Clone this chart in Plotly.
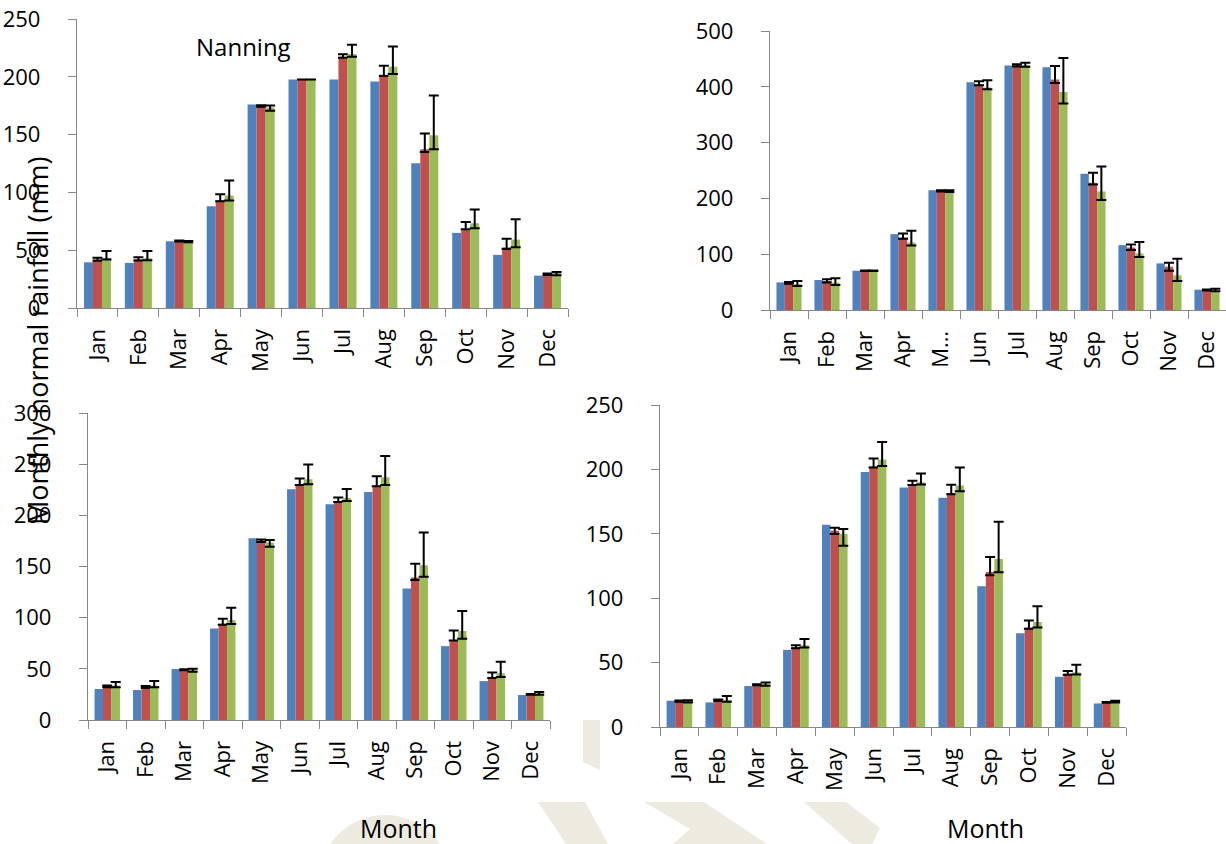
import plotly.graph_objects as go

W, H = 1226, 844

months = ["Jan", "Feb", "Mar", "Apr", "May", "Jun", "Jul", "Aug", "Sep", "Oct", "Nov", "Dec"]
months_short = ["Jan", "Feb", "Mar", "Apr", "M…", "Jun", "Jul", "Aug", "Sep", "Oct", "Nov", "Dec"]

# ---- Nanning (top left) ----
p1_blue = [39.5, 39, 57.7, 88, 176, 197.7, 197.7, 196, 125.3, 65, 46, 28]
p1_red = [42, 42, 58, 93, 174.7, 197.7, 217.4, 201.8, 137.4, 68.4, 52.5, 29.2]
p1_red_up = [1.5, 2, 0.4, 5.4, 0.6, None, 2, 7.8, 13.6, 6.1, 7.3, 0.6]
p1_red_dn = [1.2, 1, 0.4, 0.6, 0.6, None, 1, 1.2, 2.4, 0.3, 1.5, 0.6]
p1_green = [43.3, 43, 57.4, 97.3, 173.5, 197.7, 219.7, 208.7, 149.5, 73.3, 59.2, 30.3]
p1_green_up = [6.1, 6.4, 0.6, 13, 1.7, None, 8.1, 17.6, 34.4, 11.9, 17.6, 0.9]
p1_green_dn = [1.4, 1.7, 0.6, 4.3, 2.9, None, 2.3, 6.3, 12.1, 4.3, 6.7, 2]

# ---- top right ----
p2_blue = [49.5, 53.7, 70.4, 136, 214.8, 408, 438, 435, 244, 116.3, 83.5, 36.4]
p2_red = [48.3, 52, 70.4, 129.5, 213.6, 404.5, 438.5, 413, 228, 112, 77.6, 35.8]
p2_red_up = [1.7, 3, 0.5, 7.5, 1.2, 5.5, 2, 24.4, 17.8, 5.5, 7.1, 1]
p2_red_dn = [1.3, 2.5, 0.5, 1.8, 1.2, 1.8, 2, 6, 3, 4.6, 7.2, 1]
p2_green = [46.5, 49, 70.4, 121, 213, 398.6, 438.5, 390.8, 212.4, 101.4, 62, 35.2]
p2_green_up = [5.5, 7.7, 0.5, 21, 1.5, 13.1, 4.5, 60.9, 44.6, 20.3, 29.9, 2.8]
p2_green_dn = [3.5, 4.3, 0.5, 5.3, 1.5, 3, 2.5, 20.8, 15.4, 6.4, 10, 1.8]

# ---- bottom left ----
p3_blue = [30.3, 29.3, 49.8, 89.5, 177.7, 225.5, 210.9, 222.9, 128.5, 72.2, 38, 24.4]
p3_red = [32.9, 31.6, 49.1, 94, 175.4, 230.4, 213.8, 228.8, 139.3, 78.1, 41.3, 25]
p3_red_up = [0.8, 1.6, 0.4, 4.9, 1, 5.6, 3.6, 9.4, 13.3, 9.4, 5.2, 0.4]
p3_red_dn = [0.8, 0.4, 0.4, 1, 1.4, 0.7, 0.7, 0.4, 2.6, 0.3, 0.3, 0.4]
p3_green = [33.5, 33.5, 48.8, 97.6, 173.1, 235.3, 217, 237.2, 151.3, 86.9, 45.6, 26]
p3_green_up = [3.6, 4.5, 1.3, 12.1, 2.9, 14.3, 8.8, 20.8, 31.9, 19.5, 11.3, 1.3]
p3_green_dn = [1.6, 1.6, 1.6, 3.9, 3.9, 4.9, 2.9, 7.5, 11.4, 7.5, 3.6, 1.3]

# ---- bottom right ----
p4_blue = [20.4, 19.1, 31.8, 59.9, 157, 198, 186, 178, 109.2, 72.8, 39, 18.3]
p4_red = [20.1, 20.7, 32.8, 62, 152.4, 202.2, 188.3, 181.6, 120.4, 77, 41.3, 19.1]
p4_red_up = [0.5, 0.6, 0.4, 1.5, 2.3, 6.2, 2.8, 6.4, 11.6, 5.6, 2.1, 0.3]
p4_red_dn = [0.5, 0.6, 0.4, 0.8, 2.6, 0.8, 0.5, 0.8, 2.6, 0.8, 0.8, 0.3]
p4_green = [19.9, 20.9, 33.3, 63.5, 150, 207.6, 190, 187.5, 130.4, 81.6, 42.4, 19.9]
p4_green_up = [0.8, 3.1, 1.3, 4.9, 3.7, 13.7, 6.8, 13.9, 28.9, 12.2, 5.9, 0.5]
p4_green_dn = [0.8, 1.3, 1.3, 1.8, 9.2, 4.9, 1.7, 4.4, 10.3, 4.4, 1.6, 0.8]

BLUE, RED, GREEN = "#4F81BD", "#C0504D", "#9BBB59"
AXIS_GRAY = "#868686"
FONT = "Open Sans"


def px(x):
    return x / W


def py(y):
    return 1 - y / H


panels = [
    # (blue, red, red+, red-, green, green+, green-, x-range px, y-range px, ymax, dtick, labels)
    (p1_blue, p1_red, p1_red_up, p1_red_dn, p1_green, p1_green_up, p1_green_dn,
     (77, 568), (19, 308), 250, 50, months),
    (p2_blue, p2_red, p2_red_up, p2_red_dn, p2_green, p2_green_up, p2_green_dn,
     (770, 1226), (31, 310), 500, 100, months_short),
    (p3_blue, p3_red, p3_red_up, p3_red_dn, p3_green, p3_green_up, p3_green_dn,
     (88, 550), (413, 720), 300, 50, months),
    (p4_blue, p4_red, p4_red_up, p4_red_dn, p4_green, p4_green_up, p4_green_dn,
     (660, 1126), (405, 727), 250, 50, months),
]

fig = go.Figure()
layout_axes = {}

for i, (b, r, ru, rd, g, gu, gd, xr, yr, ymax, dt, labels) in enumerate(panels, start=1):
    xa = "x" if i == 1 else f"x{i}"
    ya = "y" if i == 1 else f"y{i}"
    err_style = dict(type="data", symmetric=False, color="black", thickness=2, width=5)
    fig.add_trace(go.Bar(x=months, y=b, marker_color=BLUE, marker_line_width=0,
                         xaxis=xa, yaxis=ya, showlegend=False))
    fig.add_trace(go.Bar(x=months, y=r, marker_color=RED, marker_line_width=0,
                         error_y=dict(array=ru, arrayminus=rd, **err_style),
                         xaxis=xa, yaxis=ya, showlegend=False))
    fig.add_trace(go.Bar(x=months, y=g, marker_color=GREEN, marker_line_width=0,
                         error_y=dict(array=gu, arrayminus=gd, **err_style),
                         xaxis=xa, yaxis=ya, showlegend=False))

    xkey = "xaxis" if i == 1 else f"xaxis{i}"
    ykey = "yaxis" if i == 1 else f"yaxis{i}"
    layout_axes[xkey] = dict(
        domain=[px(xr[0]), px(xr[1])], anchor=ya, type="category",
        categoryorder="array", categoryarray=months,
        tickmode="array", tickvals=months, ticktext=labels,
        tickangle=-90, tickson="boundaries", ticks="outside", ticklen=8,
        tickcolor=AXIS_GRAY, tickwidth=1.3, showline=True, linecolor=AXIS_GRAY,
        linewidth=1.3, showgrid=False, zeroline=False, automargin=False,
        ticklabelstandoff=11, tickfont=dict(family=FONT, size=22, color="black"),
    )
    layout_axes[ykey] = dict(
        domain=[py(yr[1]), py(yr[0])], anchor=xa, range=[0, ymax], dtick=dt,
        tick0=0, ticks="outside", ticklen=8, tickcolor=AXIS_GRAY, tickwidth=1.3,
        showline=True, linecolor=AXIS_GRAY, linewidth=1.3, showgrid=False,
        zeroline=False, automargin=False, ticklabelposition="outside",
        ticklabelstandoff=23,
        tickfont=dict(family=FONT, size=22, color="black"),
    )

# light beige publisher mark in the gaps of the page
BEIGE = "#EDEAE0"


def poly(points):
    d = "M " + " L ".join(f"{px(x):.4f},{py(y):.4f}" for x, y in points) + " Z"
    return dict(type="path", path=d, xref="paper", yref="paper",
                fillcolor=BEIGE, line_width=0, layer="below")


shapes = [
    dict(type="circle", xref="paper", yref="paper", x0=px(318), x1=px(452),
         y0=py(950), y1=py(815), fillcolor=BEIGE, line_width=0, layer="below"),
    poly([(538, 802), (585, 802), (608, 844), (566, 844)]),
    poly([(583, 720), (600, 720), (600, 770), (583, 762)]),
    poly([(644, 802), (704, 802), (767, 844), (673, 844), (690, 829)]),
    poly([(804, 802), (846, 802), (880, 828), (872, 844), (852, 844)]),
]

annotations = [
    dict(text="Nanning", x=px(243), y=py(47), xref="paper", yref="paper",
         showarrow=False, xanchor="center", yanchor="middle",
         font=dict(family=FONT, size=24, color="black")),
    dict(text="Monthly normal rainfall (mm)", x=px(37), y=py(341),
         xref="paper", yref="paper", showarrow=False, textangle=-90,
         xanchor="center", yanchor="middle",
         font=dict(family=FONT, size=27, color="black")),
    dict(text="Month", x=px(398), y=py(828), xref="paper", yref="paper",
         showarrow=False, xanchor="center", yanchor="middle",
         font=dict(family=FONT, size=25, color="black")),
    dict(text="Month", x=px(985), y=py(828), xref="paper", yref="paper",
         showarrow=False, xanchor="center", yanchor="middle",
         font=dict(family=FONT, size=25, color="black")),
]

fig.update_layout(
    width=W, height=H, margin=dict(l=0, r=0, t=0, b=0),
    paper_bgcolor="white", plot_bgcolor="rgba(0,0,0,0)",
    barmode="group", bargap=0.34, bargroupgap=0,
    showlegend=False, shapes=shapes, annotations=annotations,
    **layout_axes,
)

fig.write_html("out.html")
